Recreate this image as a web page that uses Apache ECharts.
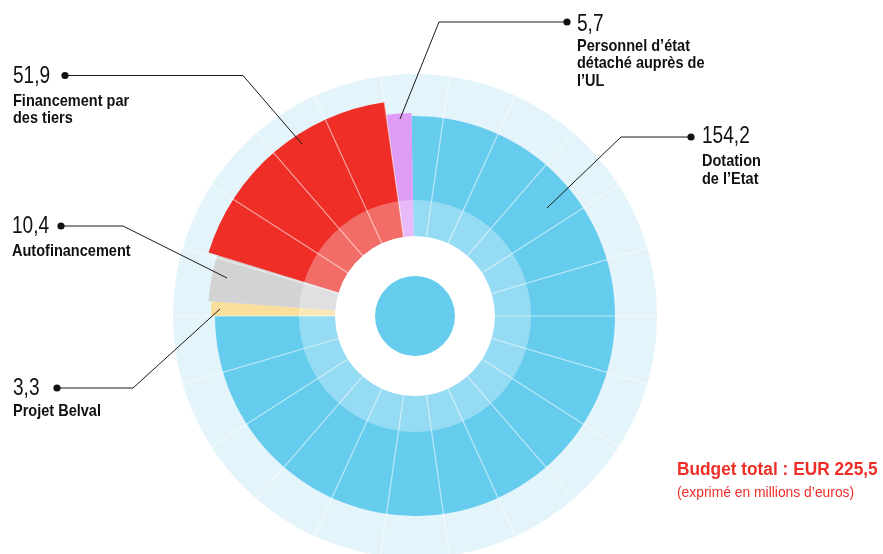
<!DOCTYPE html>
<html>
<head>
<meta charset="utf-8">
<script src="https://cdn.jsdelivr.net/npm/echarts@6/dist/echarts.min.js"></script>
<style>
html,body{margin:0;padding:0;background:#fff;}
#chart{width:883px;height:554px;}
</style>
</head>
<body>
<div id="chart"></div>
<script>
// ---- data ----
const categories = ['Dotation de l’Etat', 'Projet Belval', 'Autofinancement', 'Financement par des tiers', 'Personnel d’état détaché auprès de l’UL'];
const values = [154.2, 3.3, 10.4, 51.9, 5.7];
const nameLines = [
  ['Dotation', 'de l’Etat'],
  ['Projet Belval'],
  ['Autofinancement'],
  ['Financement par', 'des tiers'],
  ['Personnel d’état', 'détaché auprès de', 'l’UL']
];
const totalTitle = 'Budget total : EUR 225,5';
const totalSub = '(exprimé en millions d’euros)';
const spokeCount = 22;

// ---- style ----
const colors = ['#66CCEE', '#FADE9B', '#D3D3D3', '#EE2E27', '#DE9CF7'];
const outerR = [200, 204, 207, 216, 203];
const CX = 415, CY = 316;
const FONT = "'Liberation Sans', Arial, sans-serif";
const annot = [
  {nx: 702, ny: 137, dot: [691, 137], bend: [621, 137], end: [547, 208], ly: 161.5},
  {nx: 13, ny: 388.5, dot: [57, 388], bend: [133, 388], end: [220, 309], ly: 411.5},
  {nx: 12, ny: 226.5, dot: [61, 226], bend: [123, 226], end: [227, 278], ly: 251.5},
  {nx: 13, ny: 76.5, dot: [65, 75.5], bend: [243, 75.5], end: [302, 144], ly: 101},
  {nx: 577, ny: 24.5, dot: [567, 22], bend: [439, 22], end: [400, 119], ly: 46}
];
const lineGap = 17.8;

const fmt = v => String(v).replace('.', ',');

const series = [];
const base = {
  type: 'pie', center: [CX, CY], silent: true, animation: false,
  label: {show: false}, labelLine: {show: false},
  emphasis: {disabled: true}, itemStyle: {borderWidth: 0}
};
series.push(Object.assign({}, base, {
  radius: [80, 242], z: 1, data: [{value: 1, itemStyle: {color: '#E4F4FB'}}]
}));
series.push(Object.assign({}, base, {
  radius: [80, outerR[0]], z: 2, startAngle: 91, endAngle: -180,
  data: [{value: values[0], name: categories[0], itemStyle: {color: colors[0]}}]
}));
for (let i = 1; i < values.length; i++) {
  series.push(Object.assign({}, base, {
    radius: [80, outerR[i]], z: 2, startAngle: 180, endAngle: 91,
    data: values.slice(1).map((v, j) => ({
      value: v, name: categories[j + 1],
      itemStyle: {color: (j + 1 === i) ? colors[i] : 'rgba(0,0,0,0)'}
    }))
  }));
}
series.push(Object.assign({}, base, {
  radius: [80, 116], z: 3, data: [{value: 1, itemStyle: {color: 'rgba(255,255,255,0.3)'}}]
}));
series.push(Object.assign({}, base, {
  radius: [0, 40], z: 3, data: [{value: 1, itemStyle: {color: colors[0]}}]
}));

function txt(x, y, text, font, fill, sx) {
  return {
    type: 'text', z: 101, silent: true, x: x, y: y, scaleX: sx, scaleY: 1,
    style: {x: 0, y: 0, text: text, font: font, fill: fill, verticalAlign: 'middle', align: 'left'}
  };
}

const graphics = [];
annot.forEach((a, i) => {
  graphics.push({
    type: 'polyline', z: 100, silent: true,
    shape: {points: [a.dot, a.bend, a.end]},
    style: {stroke: '#1a1a1a', lineWidth: 1, fill: null}
  });
  graphics.push({
    type: 'circle', z: 101, silent: true,
    shape: {cx: a.dot[0], cy: a.dot[1], r: 3.6},
    style: {fill: '#111'}
  });
  graphics.push(txt(a.nx, a.ny, fmt(values[i]), '23px ' + FONT, '#111', 0.83));
  nameLines[i].forEach((t, k) => {
    graphics.push(txt(a.nx, a.ly + k * lineGap, t, 'bold 16.5px ' + FONT, '#111', 0.88));
  });
});
graphics.push(txt(677, 470.5, totalTitle, 'bold 18px ' + FONT, '#EE2E27', 0.96));
graphics.push(txt(677, 493.5, totalSub, '14px ' + FONT, '#EE2E27', 0.99));

const chart = echarts.init(document.getElementById('chart'), null, {renderer: 'canvas'});
chart.setOption({
  animation: false,
  backgroundColor: '#fff',
  polar: {center: [CX, CY], radius: [80, 242]},
  angleAxis: {
    type: 'category', startAngle: 0, z: 10, silent: true,
    data: Array.from({length: spokeCount}, (_, i) => String(i)),
    axisLine: {show: false}, axisTick: {show: false}, axisLabel: {show: false},
    splitLine: {show: true, lineStyle: {color: 'rgba(255,255,255,0.55)', width: 1.2}}
  },
  radiusAxis: {show: false, min: 0, max: 1, axisLine: {show: false}, splitLine: {show: false}, axisLabel: {show: false}, axisTick: {show: false}},
  series: series,
  graphic: {elements: graphics}
});
</script>
</body>
</html>
